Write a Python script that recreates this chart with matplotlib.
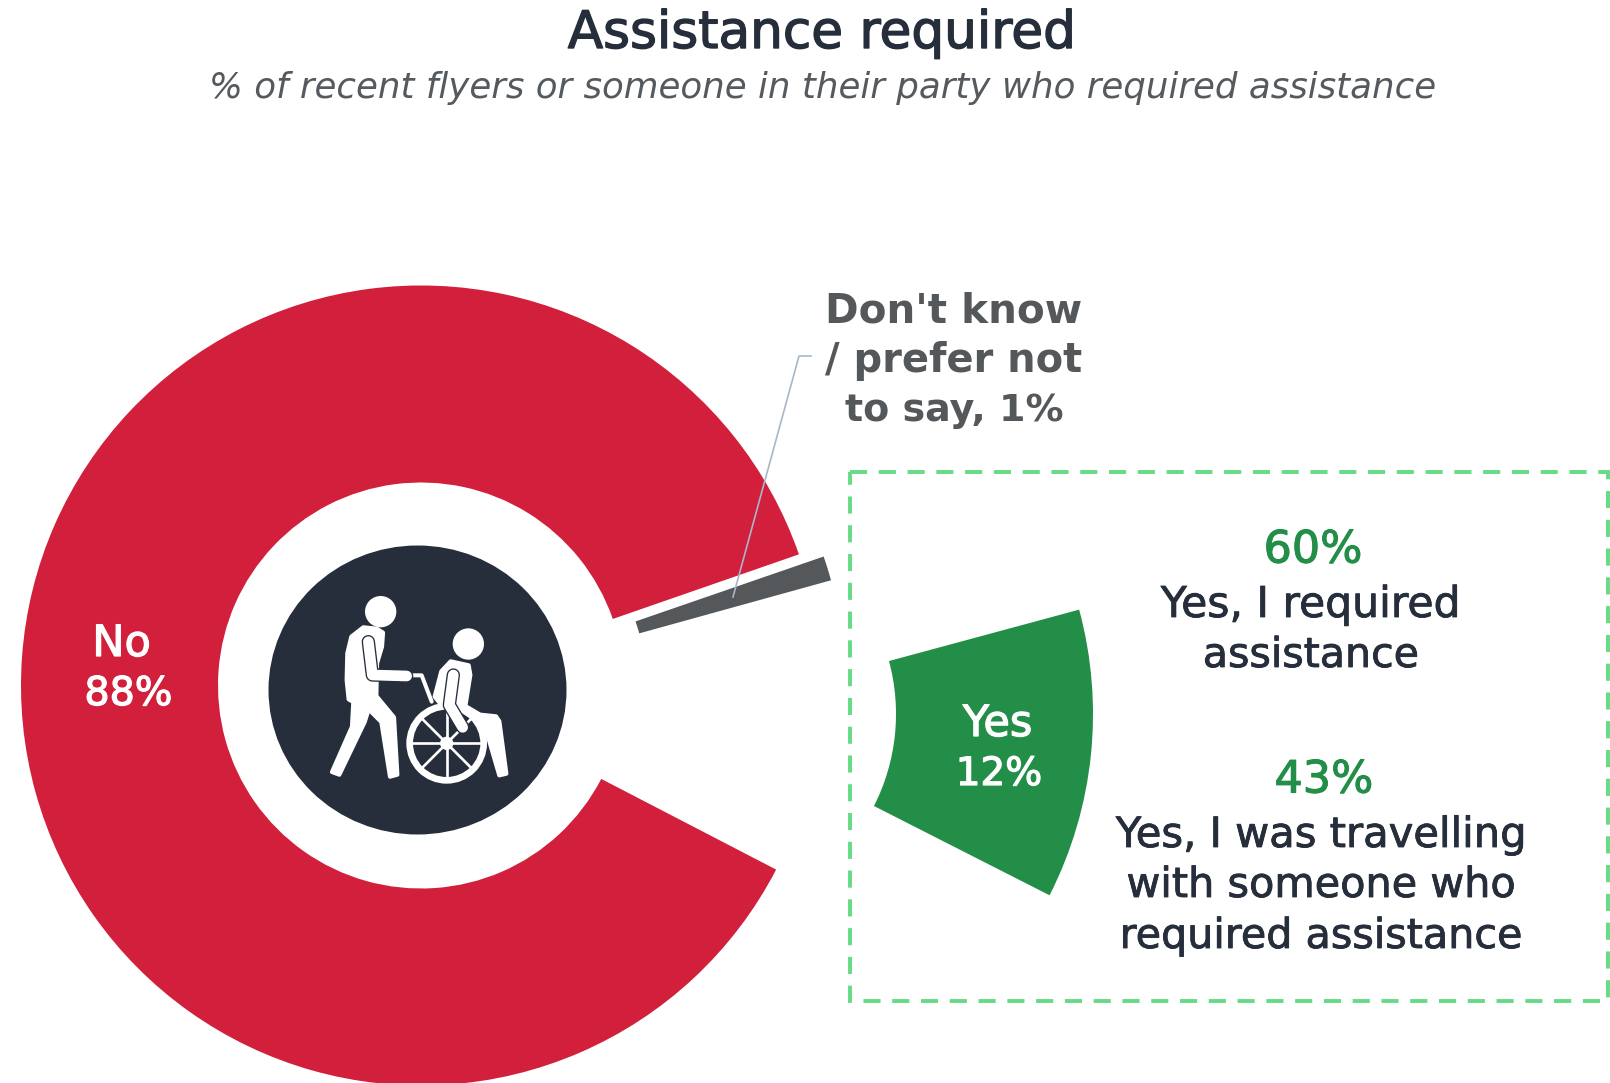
import numpy as np
import matplotlib
matplotlib.use('Agg')
import matplotlib.pyplot as plt
from matplotlib.patches import Wedge, Circle, Ellipse, Polygon, Rectangle
import matplotlib.patheffects as pe

# slices in drawing order, counter clockwise
labels = ['Yes', "Don't know / prefer not to say", 'No']
values = [12, 1, 88]
colors = ['#238e47', '#54585a', '#d11f3c']
sub_values = [60, 43]
sub_labels = [['Yes, I required', 'assistance'],
              ['Yes, I was travelling', 'with someone who', 'required assistance']]

W, H = 1610, 1083
NAVY = '#262e3c'
GREY = '#54585a'
GREEN = '#238e47'

fig = plt.figure(figsize=((W+0.01)/100, (H+0.01)/100), dpi=100)
ax = fig.add_axes([0, 0, 1, 1])
ax.set_xlim(0, W)
ax.set_ylim(H, 0)  # pixel style axes, y goes down
ax.axis('off')

# y is flipped so angles go negative here
centres = [(693, 714), (445.5, 687), (421, 685.5)]
radii = [(203, 400), (201, 400), (203, 400)]
trims = [0.35, 0, 0.1]
start = -27.3
total = float(sum(values))
for v, c, pos, (r0, r1), tr in zip(values, colors, centres, radii, trims):
    sweep = v/total*360
    ax.add_patch(Wedge(pos, r1, -(start+sweep-tr), -(start+tr), width=r1-r0, fc=c, ec='none'))
    start += sweep

# leader line for the small slice
ax.plot([733, 799, 811], [597, 356, 356], color='#a9b6ca', lw=1.2, zorder=5)

# dashed box
ax.add_patch(Rectangle((850, 472), 758, 529, fc='none', ec='#66db85', lw=2.8,
                       ls=(0, (4.4, 3)), zorder=1))


def txt(x, y, s, size, color, stroke=0, **kw):
    t = ax.text(x, y, s, fontsize=size, color=color, ha='center', va='center',
                family='DejaVu Sans', zorder=6, **kw)
    if stroke:
        t.set_path_effects([pe.Stroke(linewidth=stroke, foreground=color), pe.Normal()])
    return t


txt(822, 34, 'Assistance required', 37.2, NAVY, 1.0)
txt(823, 88, '% of recent flyers or someone in their party who required assistance',
    25.7, '#555a5f', style='italic')

for y, s, fs in zip([311, 361, 411], ["Don't know", '/ prefer not', 'to say, 1%'], [29.2, 28.8, 27.4]):
    txt(954, y, s, fs, GREY, weight='bold')

txt(121.5, 644, labels[2], 31, 'white', 0.9)
txt(128.5, 694, '%d%%' % values[2], 28.5, 'white', 0.9)
txt(997.5, 724, labels[0], 31, 'white', 0.9)
txt(999, 774, '%d%%' % values[0], 28, 'white', 0.9)

txt(1313, 550, '%d%%' % sub_values[0], 32, GREEN, 0.8)
for y, s, fs in zip([605, 656], sub_labels[0], [30.6, 29.6]):
    txt(1311, y, s, fs, NAVY, 0.6)
txt(1324, 780, '%d%%' % sub_values[1], 32, GREEN, 0.8)
for y, s, fs in zip([835, 886, 937], sub_labels[1], [30, 29.8, 29.7]):
    txt(1321, y, s, fs, NAVY, 0.6)

# centre icon
ax.add_patch(Ellipse((417.5, 690), 298, 289, fc=NAVY, ec='none', zorder=2))


def ic(pts):
    pts = np.array(pts, dtype=float)
    return pts/3 + [240, 520]


def ipoly(pts):
    ax.add_patch(Polygon(ic(pts), closed=True, fc='white', ec='white', lw=3,
                         joinstyle='round', zorder=3))


def iline(pts, w, c='white', z=3, cap='round'):
    p = ic(pts)
    ax.plot(p[:, 0], p[:, 1], color=c, lw=w*0.72/3, solid_capstyle=cap,
            solid_joinstyle='round', zorder=z)


def ihead(x, y, r=47):
    ax.add_patch(Circle(ic([(x, y)])[0], r/3, fc='white', ec='none', zorder=3))


# walking person
ihead(422, 275)
ipoly([(322, 400), (334, 350), (370, 322), (410, 326), (429, 338), (426, 380), (411, 430),
       (409, 528), (462, 592), (472, 764), (450, 770), (424, 606), (386, 568), (374, 606),
       (298, 764), (276, 756), (336, 620), (340, 546), (326, 538), (320, 480)])
iline([(385, 365), (397, 465), (500, 468)], 40, NAVY, 3.1)
iline([(385, 365), (397, 465), (500, 468)], 32, 'white', 3.2)
# push handle
iline([(512, 466), (545, 466), (575, 545)], 12)

# seated person
ihead(685, 372)
ipoly([(584, 530), (604, 454), (632, 424), (686, 436), (691, 465), (676, 558), (720, 584),
       (768, 589), (778, 604), (799, 761), (778, 766), (741, 640), (690, 600), (640, 600)])

# wheel
wx, wy = ic([(620, 670)])[0]
ax.add_patch(Circle((wx, wy), 111/3, fc=NAVY, ec='white', lw=20*0.72/3, zorder=3.3))
for a in np.arange(0, 180, 45):
    dx, dy = 108/3*np.cos(np.radians(a)), 108/3*np.sin(np.radians(a))
    ax.plot([wx-dx, wx+dx], [wy-dy, wy+dy], color='white', lw=8*0.72/3, zorder=3.4)
ax.add_patch(Circle((wx, wy), 20/3, fc='white', ec='none', zorder=3.5))
iline([(640, 465), (628, 555), (668, 622)], 40, NAVY, 3.6)
iline([(640, 465), (628, 555), (668, 622)], 32, 'white', 3.7)

fig.savefig('out.png', dpi=100, facecolor='white')
